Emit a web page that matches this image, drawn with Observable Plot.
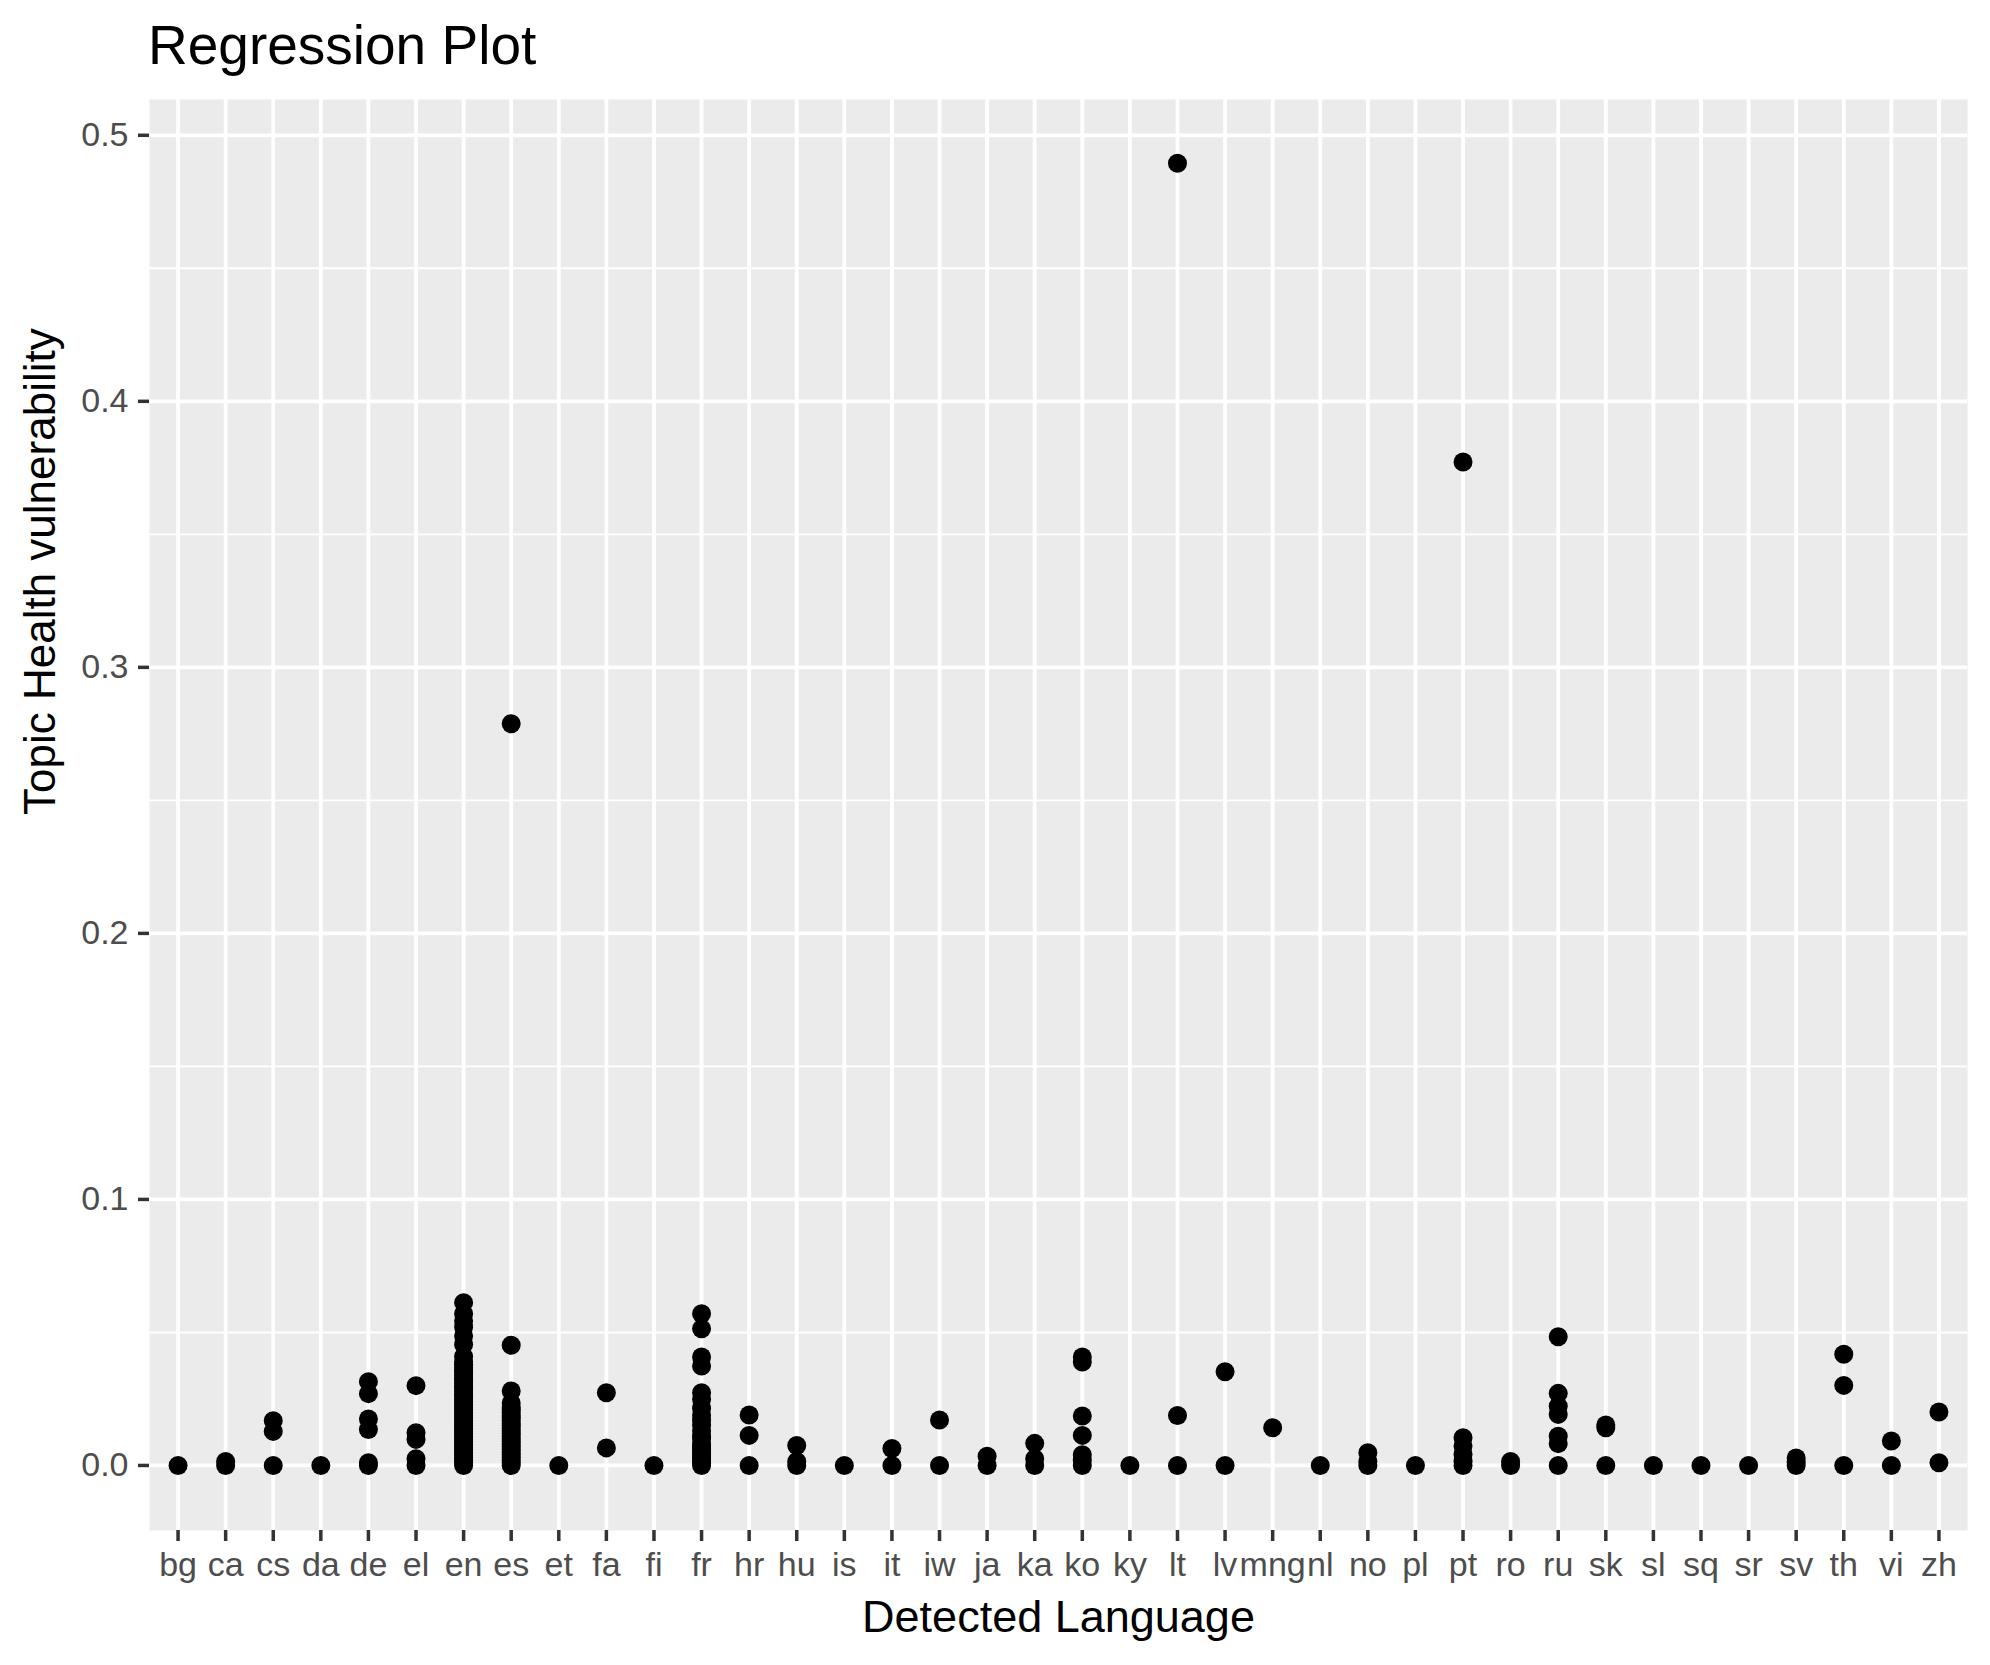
<!DOCTYPE html>
<html>
<head>
<meta charset="utf-8">
<script src="https://cdn.jsdelivr.net/npm/d3@7"></script>
<script src="https://cdn.jsdelivr.net/npm/@observablehq/plot@0.6"></script>
<style>
html, body { margin: 0; padding: 0; background: #ffffff; }
#title {
  height: 90px; box-sizing: border-box; padding: 17.6px 0 0 148px;
  font-family: "Liberation Sans", Arial, sans-serif; font-size: 55px; line-height: 54px;
  color: #000000; white-space: nowrap;
}
#chart svg { display: block; }
</style>
</head>
<body>
<div id="title">Regression Plot</div>
<div id="chart"></div>
<script>
// Categories (detected language codes)
const languages = ["bg","ca","cs","da","de","el","en","es","et","fa",
  "fi","fr","hr","hu","is","it","iw","ja","ka","ko",
  "ky","lt","lv","mng","nl","no","pl","pt","ro","ru",
  "sk","sl","sq","sr","sv","th","vi","zh"];

// Topic Health vulnerability values per language (same order as languages)
const values = [
  [0],                                                    // bg
  [0, 0.0015],                                            // ca
  [0, 0.0128, 0.0168],                                    // cs
  [0],                                                    // da
  [0, 0.001, 0.0135, 0.0175, 0.027, 0.0315],              // de
  [0, 0.0025, 0.0098, 0.0123, 0.030],                     // el
  [0, 0.001, 0.002, 0.003, 0.004, 0.005, 0.006, 0.007, 0.008, 0.009,
   0.010, 0.011, 0.012, 0.013, 0.014, 0.015, 0.016, 0.017, 0.018, 0.019,
   0.020, 0.021, 0.022, 0.023, 0.024, 0.025, 0.026, 0.027, 0.028, 0.029,
   0.030, 0.031, 0.032, 0.033, 0.034, 0.035, 0.036, 0.037, 0.038, 0.039,
   0.041, 0.0455, 0.0487, 0.052, 0.0543, 0.057, 0.0612],  // en
  [0, 0.001, 0.002, 0.003, 0.004, 0.005, 0.006, 0.007, 0.008, 0.009,
   0.010, 0.011, 0.012, 0.013, 0.014, 0.015, 0.016, 0.017, 0.018, 0.019,
   0.020, 0.021, 0.022, 0.0235, 0.028, 0.0452, 0.2788],   // es
  [0],                                                    // et
  [0.0066, 0.0273],                                       // fa
  [0],                                                    // fi
  [0, 0.001, 0.002, 0.003, 0.004, 0.005, 0.006, 0.007, 0.008, 0.010,
   0.011, 0.013, 0.015, 0.017, 0.019, 0.0215, 0.0248, 0.0273, 0.0374,
   0.0408, 0.0514, 0.057],                                // fr
  [0, 0.0113, 0.019],                                     // hr
  [0, 0.0015, 0.0075],                                    // hu
  [0],                                                    // is
  [0, 0.0064],                                            // it
  [0, 0.0171],                                            // iw
  [0, 0.0035],                                            // ja
  [0, 0.0025, 0.0083],                                    // ka
  [0, 0.002, 0.004, 0.0113, 0.0186, 0.0389, 0.0408],      // ko
  [0],                                                    // ky
  [0, 0.0188, 0.4895],                                    // lt
  [0, 0.0352],                                            // lv
  [0.0142],                                               // mng
  [0],                                                    // nl
  [0, 0.0015, 0.0048],                                    // no
  [0],                                                    // pl
  [0, 0.0016, 0.0041, 0.0073, 0.0104, 0.3772],            // pt
  [0, 0.0015],                                            // ro
  [0, 0.0082, 0.011, 0.0192, 0.0223, 0.0271, 0.0484],     // ru
  [0, 0.0142, 0.0152],                                    // sk
  [0],                                                    // sl
  [0],                                                    // sq
  [0],                                                    // sr
  [0, 0.0012, 0.0028],                                    // sv
  [0, 0.0301, 0.0418],                                    // th
  [0, 0.0092],                                            // vi
  [0.001, 0.0201]                                         // zh
];

const yMajorTicks = [0, 0.1, 0.2, 0.3, 0.4, 0.5];
const yMinorTicks = [0.05, 0.15, 0.25, 0.35, 0.45];
const yDomain = [-0.02445, 0.51345];

const xTitle = "Detected Language";
const yTitle = "Topic Health vulnerability";

const points = languages.flatMap((lang, i) => values[i].map(v => ({lang, value: v})));

const font = "'Liberation Sans', Arial, sans-serif";

const chart = Plot.plot({
  width: 1990,
  height: 1575,
  marginTop: 9,
  marginBottom: 135,
  marginLeft: 149,
  marginRight: 23,
  style: {fontFamily: font, background: "#ffffff", overflow: "visible"},
  x: {type: "point", domain: languages, padding: 0.6, round: false},
  y: {domain: yDomain},
  marks: [
    Plot.frame({fill: "#EBEBEB", stroke: null}),
    Plot.ruleY(yMinorTicks, {stroke: "#ffffff", strokeWidth: 1.9}),
    Plot.ruleY(yMajorTicks, {stroke: "#ffffff", strokeWidth: 3.8}),
    Plot.ruleX(languages, {stroke: "#ffffff", strokeWidth: 3.8}),
    Plot.dot(points, {x: "lang", y: "value", r: 9.5, fill: "#000000", stroke: null}),
    Plot.axisX({tickSize: 11, tickPadding: 10, fontSize: 34, stroke: "#333333", fill: "#4d4d4d", strokeWidth: 3.5, label: null}),
    Plot.axisY({ticks: yMajorTicks, tickFormat: d3.format(".1f"), tickSize: 11, tickPadding: 10, fontSize: 34,
      stroke: "#333333", fill: "#4d4d4d", strokeWidth: 3.5, label: null}),
    Plot.text([xTitle], {text: d => d, frameAnchor: "bottom", lineAnchor: "bottom", dy: 101.7,
      fontSize: 45, fill: "#000000"}),
    Plot.text([yTitle], {text: d => d, frameAnchor: "left", lineAnchor: "bottom", rotate: -90, dx: -95,
      fontSize: 44, fill: "#000000"})
  ]
});
document.getElementById("chart").appendChild(chart);
</script>
</body>
</html>
